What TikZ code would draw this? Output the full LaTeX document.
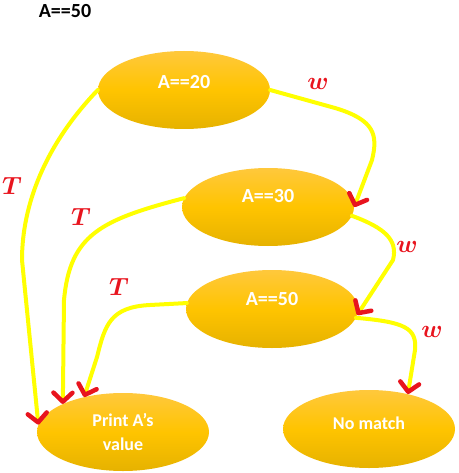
\documentclass[tikz,border=0pt]{standalone}
\usepackage{fontspec}
\setmainfont{Carlito}
\usetikzlibrary{arrows.meta,shapes.geometric}
\definecolor{ellTop}{HTML}{FFC83C}
\definecolor{ellMid}{HTML}{FFC400}
\definecolor{ellBot}{HTML}{E6B200}
\definecolor{lineY}{HTML}{FFFF00}
\definecolor{tipR}{HTML}{E8141E}
\begin{document}
\begin{tikzpicture}[x=1pt,y=-1pt,
  ell/.style={ellipse, minimum width=172pt, minimum height=78pt, inner sep=0pt,
    top color=ellTop, bottom color=ellBot, middle color=ellMid},
  etext/.style={text=white, font=\fontsize{20}{24}\selectfont\bfseries},
  stext/.style={text=white, font=\fontsize{18}{24}\selectfont\bfseries, align=center},
  conn/.style={draw=lineY, line width=4pt, line cap=round,
    -{Straight Barb[length=9pt,width=19pt,line width=4.5pt,round,color=tipR]}},
  lab/.style={text=tipR, font=\fontsize{26}{30}\selectfont\boldmath},
]
\useasboundingbox (0,0) rectangle (458,473);

\node[anchor=base, font=\fontsize{20}{24}\selectfont\bfseries] (title) at (65,18) {A==50};

\node[ell] (n20) at (184,90) {};
\node[ell] (n30) at (268,207) {};
\node[ell] (n50) at (272,309) {};
\node[ell] (pv) at (123,432) {};
\node[ell] (nm) at (369,429) {};

\node[etext] (t20) at ([yshift=7.5pt]n20.center) {A==20};
\node[etext] (t30) at ([yshift=10.5pt]n30.center) {A==30};
\node[etext] (t50) at ([yshift=10pt]n50.center) {A==50};
\node[stext] (tpv) at ([yshift=0pt]pv.center) {Print A’s\\value};
\node[stext] (tnm) at ([yshift=6pt]nm.center) {No match};

% T branches
\draw[conn] (n20.west) .. controls (45,145) and (22,205) .. (22,260) -- (pv.175);
\draw[conn] (n30.174) .. controls (100,220) and (70,235) .. (64,300) -- (pv.155);
\draw[conn] (n50.176) -- (150,305) .. controls (110,307) and (105,325) .. (97,357) -- (pv.138);

% w branches
\draw[conn] (n20.east) -- (335,108) .. controls (375,120) and (378,135) .. (372,160) -- (n30.east);
\draw[conn] (n30.-6) .. controls (385,228) and (398,240) .. (393,260) -- (n50.-4);
\draw[conn] (n50.-6) .. controls (405,322) and (417,328) .. (415,350) -- (nm.42);

\node[lab] (lT1) at (12,186) {$T$};
\node[lab] (lT2) at (81,217) {$T$};
\node[lab] (lT3) at (119,287) {$T$};
\node[lab] (lw1) at (318,84) {$w$};
\node[lab] (lw2) at (407,247) {$w$};
\node[lab] (lw3) at (432,332) {$w$};
\end{tikzpicture}
\end{document}
